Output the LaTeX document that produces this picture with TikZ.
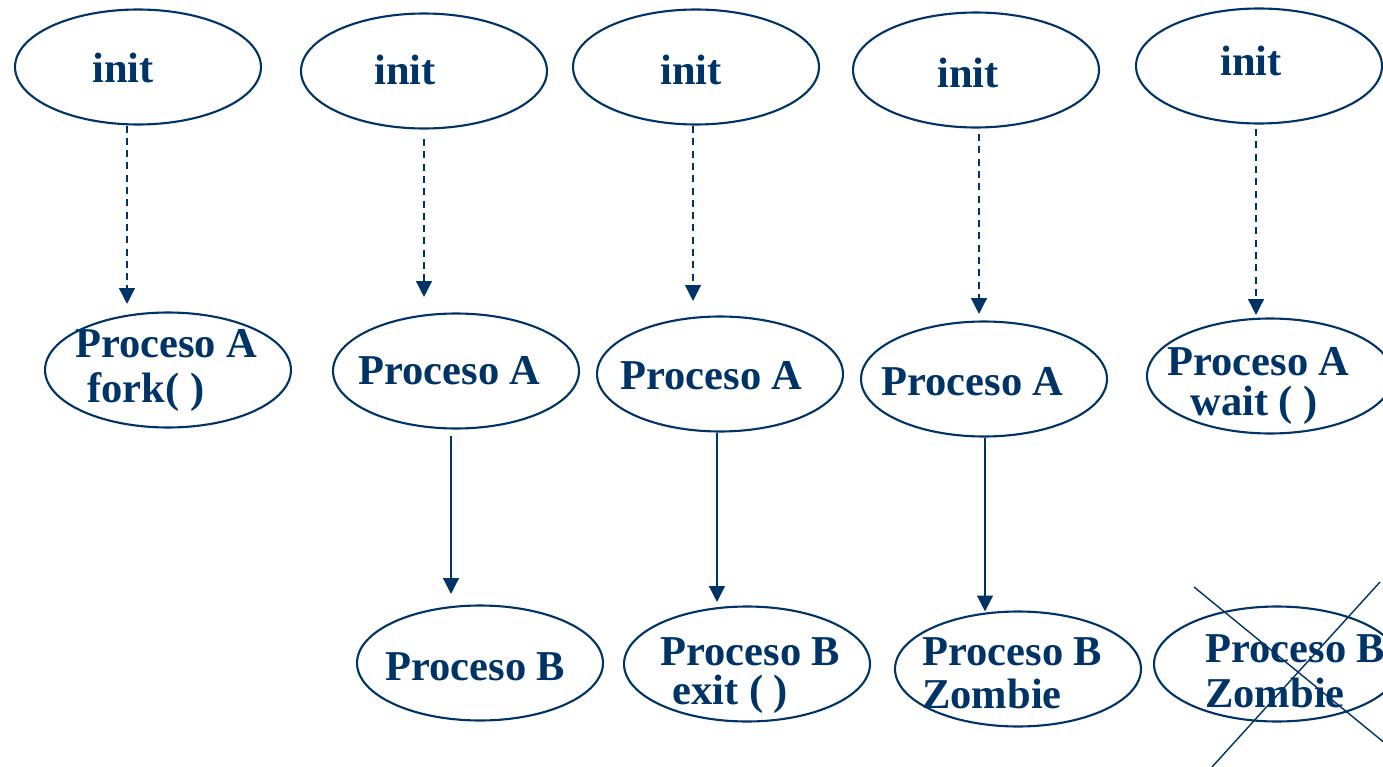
\documentclass[tikz,border=0pt]{standalone}
\usepackage{fontspec}
\setmainfont{Liberation Serif}
\usetikzlibrary{arrows.meta, shapes.geometric, calc}
\definecolor{azul}{HTML}{003366}

\tikzset{
    proc/.style={ellipse, draw=azul, line width=1.2pt, minimum width=4.92cm, minimum height=2.3cm, inner sep=0pt},
    txt/.style={anchor=base west, inner sep=0pt, text=azul, font=\fontsize{24.2}{24}\selectfont\bfseries},
    flecha/.style={draw=azul, line width=0.8pt, -{Triangle[width=9pt,length=9pt]}},
    hilo/.style={flecha, dash pattern=on 4pt off 3pt},
}

\begin{document}
\begin{tikzpicture}[x=0.02cm, y=-0.02cm]
    \useasboundingbox (0,0) rectangle (1383,767);

    % init
    \node[proc] (i1) at (138,67) {};
    \node[proc] (i2) at (424,71) {};
    \node[proc] (i3) at (696,67) {};
    \node[proc] (i4) at (976,70) {};
    \node[proc] (i5) at (1259,66) {};
    \node[txt] (ti1) at (92,83) {init};
    \node[txt] (ti2) at (374,85) {init};
    \node[txt] (ti3) at (660,85) {init};
    \node[txt] (ti4) at (937,88) {init};
    \node[txt] (ti5) at (1220,76) {init};

    % Proceso A
    \node[proc] (a1) at (168,370) {};
    \node[proc] (a2) at (456,371) {};
    \node[proc] (a3) at (720,374) {};
    \node[proc] (a4) at (984,379) {};
    \node[proc] (a5) at (1270,376) {};
    \node[txt] (ta1) at (75,357) {Proceso A};
    \node[txt] (tf1) at (87,402) {fork( )};
    \node[txt] (ta2) at (358,384) {Proceso A};
    \node[txt] (ta3) at (620,389) {Proceso A};
    \node[txt] (ta4) at (881,395) {Proceso A};
    \node[txt] (ta5) at (1167,375) {Proceso A};
    \node[txt] (tw5) at (1190,415) {wait ( )};

    % Proceso B
    \node[proc] (b2) at (480,663) {};
    \node[proc] (b3) at (747,664) {};
    \node[proc] (b4) at (1018,669) {};
    \node[proc] (b5) at (1277,664) {};
    \node[txt] (tb2) at (385,680) {Proceso B};
    \node[txt] (tb3) at (660,665) {Proceso B};
    \node[txt] (te3) at (672,704) {exit ( )};
    \node[txt] (tb4) at (922,665) {Proceso B};
    \node[txt] (tz4) at (922,708) {Zombie};
    \node[txt] (tb5) at (1205,662) {Proceso B};
    \node[txt] (tz5) at (1205,707) {Zombie};

    % init -> Proceso A
    \draw[hilo] ($(i1.south)+(-11,0)$) -- ($(a1.north)+(-41,-7.5)$);
    \draw[hilo] ($(i2.south)+(0,9.5)$) -- ($(a2.north)+(-32,-15.5)$);
    \draw[hilo] ($(i3.south)+(-3,0.5)$) -- ($(a3.north)+(-27,-14.5)$);
    \draw[hilo] ($(i4.south)+(3,5.5)$) -- ($(a4.north)+(-5,-6.5)$);
    \draw[hilo] ($(i5.south)+(-3,4.5)$) -- ($(a5.north)+(-14,-2.5)$);

    % Proceso A -> Proceso B
    \draw[flecha] ($(a2.south)+(-5,6.5)$) -- ($(b2.north)+(-29,-10.5)$);
    \draw[flecha] ($(a3.south)+(-3,0.5)$) -- ($(b3.north)+(-30,-3.5)$);
    \draw[flecha] ($(a4.south)+(1,0)$) -- ($(b4.north)+(-33,1)$);

    % tachado
    \draw[azul, line width=0.8pt] (1194,587) -- (1386,744);
    \draw[azul, line width=0.8pt] (1380,582) -- (1212,767);

\end{tikzpicture}
\end{document}
